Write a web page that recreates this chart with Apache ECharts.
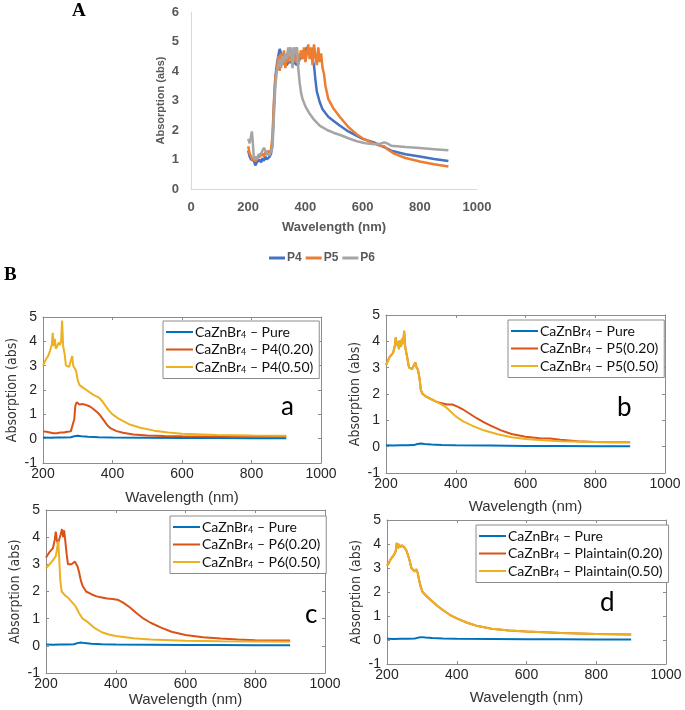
<!DOCTYPE html>
<html><head><meta charset="utf-8">
<script src="https://cdn.jsdelivr.net/npm/echarts/dist/echarts.min.js"></script>
<style>html,body{margin:0;background:#fff}#c{width:685px;height:710px}</style>
</head><body><div id="c"></div><script>
// ---------- Panel A data: [wavelength nm, absorption] ----------
const A_P4 = [[200,1.3],[205,1.1],[210,1.0],[215,1.05],[220,0.95],[225,0.8],[230,0.9],[235,0.85],[240,1.0],[245,0.9],[250,1.05],[255,0.95],[260,1.1],[265,1.0],[270,1.05],[275,1.1],[280,1.2],[285,1.6],[290,2.8],[295,3.8],[300,4.2],[305,4.5],[310,4.75],[315,4.6],[320,4.3],[325,4.25],[330,4.3],[335,4.2],[340,4.3],[345,4.35],[350,4.3],[355,4.4],[360,4.3],[365,4.35],[370,4.2],[375,4.3],[380,4.4],[385,4.45],[390,4.5],[395,4.6],[400,4.7],[405,4.8],[410,4.75],[415,4.6],[420,4.5],[425,4.4],[430,4.2],[435,3.7],[440,3.3],[450,2.95],[460,2.7],[480,2.45],[500,2.3],[520,2.15],[550,1.95],[580,1.8],[600,1.7],[640,1.58],[660,1.48],[675,1.42],[690,1.35],[700,1.3],[750,1.18],[800,1.1],[850,1.02],[900,0.95]];
const A_P5 = [[200,1.45],[205,1.2],[210,1.1],[215,1.0],[220,1.05],[225,0.95],[230,1.05],[235,1.0],[240,1.1],[245,1.05],[250,1.2],[255,1.1],[260,1.25],[265,1.15],[270,1.3],[275,1.2],[280,1.35],[285,1.8],[290,3.0],[295,3.8],[300,4.0],[305,4.5],[310,4.0],[315,4.6],[320,4.2],[325,4.7],[330,4.1],[335,4.5],[340,4.3],[345,4.8],[350,4.4],[355,4.2],[360,4.6],[365,4.3],[370,4.8],[375,4.2],[380,4.5],[385,4.7],[390,4.4],[395,4.8],[400,4.3],[405,4.6],[410,4.9],[415,4.4],[420,4.8],[425,4.2],[430,4.9],[435,4.5],[440,4.2],[445,4.8],[450,4.3],[455,4.6],[460,4.1],[465,3.9],[470,3.5],[480,3.05],[500,2.7],[520,2.45],[550,2.1],[580,1.85],[600,1.72],[630,1.58],[660,1.47],[675,1.45],[690,1.32],[710,1.2],[750,1.05],[800,0.93],[850,0.84],[900,0.76]];
const A_P6 = [[200,1.7],[205,1.55],[210,1.5],[213,1.95],[216,1.6],[220,1.0],[225,1.1],[230,1.0],[235,1.15],[240,1.1],[245,1.2],[250,1.15],[255,1.4],[260,1.3],[265,1.2],[270,1.25],[275,1.15],[280,1.3],[285,1.4],[290,2.5],[295,3.5],[300,4.0],[305,4.2],[310,4.4],[315,4.1],[320,4.5],[325,4.3],[330,4.6],[335,4.4],[340,4.8],[345,4.5],[350,4.8],[355,4.1],[360,4.8],[365,4.6],[370,4.8],[375,4.1],[380,3.6],[385,3.25],[390,3.05],[400,2.8],[415,2.55],[430,2.35],[450,2.15],[476,2.0],[500,1.9],[522,1.83],[550,1.72],[580,1.62],[610,1.55],[640,1.52],[660,1.53],[675,1.58],[685,1.55],[700,1.47],[750,1.42],[800,1.39],[850,1.35],[900,1.31]];
const A_NAMES = ['P4','P5','P6'];

// ---------- Panel B data ----------
const PURE = [[200,0.05],[220,0.04],[240,0.05],[260,0.05],[280,0.06],[290,0.1],[300,0.12],[310,0.1],[330,0.08],[360,0.06],[400,0.05],[500,0.04],[600,0.03],[700,0.03],[800,0.02],[900,0.02]];
const a_P4_020 = [[200,0.3],[210,0.28],[220,0.25],[230,0.22],[240,0.22],[250,0.25],[260,0.25],[270,0.28],[280,0.3],[285,0.35],[290,0.8],[293,1.35],[297,1.5],[300,1.48],[305,1.4],[315,1.42],[325,1.38],[335,1.32],[345,1.22],[355,1.1],[365,0.95],[375,0.75],[385,0.55],[395,0.42],[410,0.32],[430,0.24],[460,0.17],[500,0.13],[550,0.11],[600,0.1],[700,0.09],[800,0.08],[900,0.08]];
const a_P4_050 = [[200,3.0],[205,3.15],[210,3.3],[215,3.4],[220,3.6],[225,3.85],[228,4.35],[231,3.8],[234,4.1],[237,3.7],[241,3.8],[245,3.95],[249,3.85],[252,4.0],[255,4.85],[258,3.8],[262,3.5],[266,3.0],[270,3.05],[275,2.95],[280,3.0],[284,3.4],[287,3.0],[291,3.05],[295,2.8],[300,2.4],[305,2.2],[315,2.1],[330,1.95],[345,1.8],[360,1.7],[370,1.55],[380,1.35],[390,1.15],[400,1.0],[420,0.8],[450,0.58],[480,0.45],[520,0.33],[560,0.25],[600,0.2],[700,0.15],[800,0.13],[900,0.12]];
const b_P5_020 = [[200,3.1],[205,3.25],[210,3.4],[215,3.45],[220,3.55],[225,3.8],[228,4.15],[231,3.85],[234,4.0],[237,3.7],[240,4.05],[243,3.8],[246,4.1],[249,3.9],[252,4.4],[255,3.8],[258,3.75],[262,3.3],[266,3.0],[270,3.0],[275,2.95],[280,3.1],[284,3.2],[288,3.0],[292,2.9],[296,2.6],[300,2.15],[305,2.0],[315,1.9],[330,1.8],[345,1.7],[360,1.65],[375,1.6],[390,1.6],[405,1.52],[420,1.42],[440,1.25],[460,1.08],[480,0.93],[500,0.8],[530,0.62],[560,0.48],[600,0.38],[640,0.32],[670,0.31],[700,0.26],[750,0.21],[800,0.18],[850,0.17],[900,0.17]];
const b_P5_050 = [[200,3.1],[205,3.25],[210,3.4],[215,3.45],[220,3.55],[225,3.8],[228,4.15],[231,3.85],[234,4.0],[237,3.7],[240,4.05],[243,3.8],[246,4.1],[249,3.9],[252,4.4],[255,3.8],[258,3.75],[262,3.3],[266,3.0],[270,3.0],[275,2.95],[280,3.1],[284,3.2],[288,3.0],[292,2.9],[296,2.6],[300,2.15],[305,2.0],[315,1.9],[330,1.8],[345,1.7],[360,1.6],[370,1.52],[380,1.4],[400,1.15],[420,0.97],[450,0.78],[480,0.62],[500,0.55],[520,0.47],[560,0.36],[600,0.29],[650,0.24],[700,0.21],[800,0.18],[900,0.17]];
const c_P6_020 = [[200,3.25],[205,3.35],[210,3.45],[215,3.5],[220,3.6],[225,3.9],[228,4.2],[231,3.9],[234,3.75],[238,3.8],[242,4.1],[246,4.3],[249,4.0],[252,4.25],[255,3.9],[259,3.4],[263,3.0],[268,2.95],[273,3.0],[278,2.95],[283,3.1],[287,3.05],[291,2.9],[295,2.7],[300,2.4],[305,2.2],[315,2.0],[330,1.9],[345,1.82],[360,1.78],[375,1.74],[390,1.72],[405,1.7],[420,1.6],[440,1.42],[460,1.2],[480,1.0],[500,0.85],[530,0.67],[560,0.52],[600,0.4],[650,0.32],[700,0.27],[750,0.23],[800,0.21],[850,0.2],[900,0.2]];
const c_P6_050 = [[200,2.85],[210,3.0],[220,3.15],[228,3.3],[232,3.6],[235,3.85],[238,3.2],[241,2.4],[245,2.0],[255,1.85],[265,1.75],[275,1.6],[285,1.45],[295,1.2],[305,1.0],[320,0.87],[340,0.65],[360,0.5],[380,0.42],[400,0.36],[450,0.28],[500,0.23],[600,0.19],[700,0.17],[800,0.16],[900,0.15]];
const d_PL = [[200,3.1],[205,3.2],[210,3.35],[215,3.45],[220,3.55],[225,3.7],[228,4.05],[231,3.8],[234,4.0],[238,3.85],[242,3.95],[246,3.9],[250,3.85],[255,3.75],[260,3.55],[265,3.3],[270,3.0],[275,2.95],[280,2.85],[284,2.95],[288,2.8],[292,2.5],[297,2.2],[302,2.0],[315,1.8],[330,1.6],[345,1.42],[360,1.25],[380,1.05],[400,0.9],[430,0.72],[460,0.58],[500,0.47],[550,0.4],[600,0.35],[650,0.32],[700,0.29],[750,0.27],[800,0.25],[850,0.24],[900,0.23]];

const B_PANELS = [
  {tag:'a', names:['CaZnBr4 – Pure','CaZnBr4 – P4(0.20)','CaZnBr4 – P4(0.50)'], data:[PURE,a_P4_020,a_P4_050]},
  {tag:'b', names:['CaZnBr4 – Pure','CaZnBr4 – P5(0.20)','CaZnBr4 – P5(0.50)'], data:[PURE,b_P5_020,b_P5_050]},
  {tag:'c', names:['CaZnBr4 – Pure','CaZnBr4 – P6(0.20)','CaZnBr4 – P6(0.50)'], data:[PURE,c_P6_020,c_P6_050]},
  {tag:'d', names:['CaZnBr4 – Pure','CaZnBr4 – Plaintain(0.20)','CaZnBr4 – Plaintain(0.50)'], data:[PURE,d_PL,d_PL]}
];

// ---------- layout ----------
const chart = echarts.init(document.getElementById('c'));
const grids = [{left:191, top:12, width:286, height:177}];
const BOX = [
  {left:43, top:317, width:278, height:146, leg:{left:163, top:321}, letter:[288,418], xt:491},
  {left:386, top:315, width:279, height:158, leg:{left:508, top:320}, letter:[624,419], xt:500},
  {left:46, top:510, width:279, height:163, leg:{left:170, top:516}, letter:[312,626], xt:692},
  {left:387, top:520, width:279, height:144, leg:{left:476, top:525}, letter:[607,614], xt:691}
];
const plain = v => String(v);
const xAxes = [{
  gridIndex:0, type:'value', min:0, max:1000, interval:200,
  axisLine:{show:true, lineStyle:{color:'#d9d9d9'}}, axisTick:{show:false}, splitLine:{show:false},
  axisLabel:{color:'#595959', fontWeight:'bold', fontSize:13, fontFamily:'Liberation Sans', margin:12, formatter:plain},
  name:'Wavelength (nm)', nameLocation:'middle', nameGap:32,
  nameTextStyle:{color:'#595959', fontWeight:'bold', fontSize:13, fontFamily:'Liberation Sans'}
}];
const yAxes = [{
  gridIndex:0, type:'value', min:0, max:6, interval:1,
  axisLine:{show:true, lineStyle:{color:'#d9d9d9'}}, axisTick:{show:false}, splitLine:{show:false},
  axisLabel:{color:'#595959', fontWeight:'bold', fontSize:13, fontFamily:'Liberation Sans', margin:12},
  name:'Absorption (abs)', nameLocation:'middle', nameGap:25,
  nameTextStyle:{color:'#595959', fontWeight:'bold', fontSize:11, fontFamily:'Liberation Sans'}
}];
const ACOL = ['#4472C4','#ED7D31','#A5A5A5'];
const series = [A_P4, A_P5, A_P6].map((d,i)=>({
  type:'line', name:A_NAMES[i], xAxisIndex:0, yAxisIndex:0, data:d, showSymbol:false,
  lineStyle:{width:2.5, color:ACOL[i]}, itemStyle:{color:ACOL[i]}, z:3
}));
const legends = [{
  data:A_NAMES, left:264, top:247, itemGap:4, itemWidth:16, itemHeight:3, icon:'rect',
  textStyle:{color:'#595959', fontWeight:'bold', fontSize:12, fontFamily:'Liberation Sans', padding:[0,0,0,-3]}
}];
const BCOL = ['#0072BD','#D95319','#EDB120'];
const graphics = [];
const edge = '#8c8c8c';
const lbl = {color:'#262626', fontSize:14, fontFamily:'Liberation Sans', formatter:plain};
B_PANELS.forEach((p,k)=>{
  const g = k+1, b = BOX[k];
  grids.push({left:b.left, top:b.top, width:b.width, height:b.height});
  const xb = xAxes.length, yb = yAxes.length;
  xAxes.push({gridIndex:g, type:'value', position:'bottom', min:200, max:1000, interval:200,
    axisLine:{onZero:false, lineStyle:{color:edge}}, axisTick:{inside:true, length:3, lineStyle:{color:edge}},
    splitLine:{show:false}, axisLabel:Object.assign({}, lbl, {margin:4}),
    name:'Wavelength (nm)', nameLocation:'middle', nameGap:b.xt-(b.top+b.height)-1,
    nameTextStyle:{color:'#333', fontSize:15, fontFamily:'Liberation Sans'}});
  xAxes.push({gridIndex:g, type:'value', position:'top', min:200, max:1000, interval:200,
    axisLine:{onZero:false, lineStyle:{color:edge}}, axisTick:{inside:true, length:3, lineStyle:{color:edge}},
    splitLine:{show:false}, axisLabel:{show:false}});
  yAxes.push({gridIndex:g, type:'value', position:'left', min:-1, max:5, interval:1,
    axisLine:{onZero:false, lineStyle:{color:edge}}, axisTick:{inside:true, length:3, lineStyle:{color:edge}},
    splitLine:{show:false}, axisLabel:Object.assign({}, lbl, {margin:6}),
    name:'Absorption (abs)', nameLocation:'middle', nameGap:24,
    nameTextStyle:{color:'#333', fontSize:14, fontFamily:'Liberation Sans Narrow, DejaVu Sans Condensed, Liberation Sans'}});
  yAxes.push({gridIndex:g, type:'value', position:'right', min:-1, max:5, interval:1,
    axisLine:{onZero:false, lineStyle:{color:edge}}, axisTick:{inside:true, length:3, lineStyle:{color:edge}},
    splitLine:{show:false}, axisLabel:{show:false}});
  p.data.forEach((d,i)=>{
    series.push({type:'line', name:p.names[i], xAxisIndex:xb, yAxisIndex:yb, data:d, showSymbol:false,
      lineStyle:{width:2, color:BCOL[i]}, itemStyle:{color:BCOL[i]}, z:2+i});
  });
  legends.push({data:p.names, orient:'vertical', left:b.leg.left, top:b.leg.top,
    itemGap:3, itemWidth:27, itemHeight:2, icon:'rect', backgroundColor:'#fff',
    borderColor:'#8c8c8c', borderWidth:1, padding:[4,6,4,3],
    formatter: n => n.replace('CaZnBr4', 'CaZnBr{sub|4}'),
    textStyle:{color:'#111', fontSize:14, fontFamily:'Lato', padding:[0,0,0,-3],
      rich:{sub:{fontSize:9, fontFamily:'Lato', color:'#111', padding:[6,0,0,0]}}}});
  graphics.push({type:'text', left:b.letter[0]-7, top:b.letter[1]-24,
    style:{text:p.tag, fontSize:26, fontFamily:'Lato', fill:'#000'}});
});
graphics.push({type:'text', left:72, top:2, style:{text:'A', fontSize:19, fontWeight:'bold', fontFamily:'Liberation Serif', fill:'#000'}});
graphics.push({type:'text', left:4, top:266, style:{text:'B', fontSize:19, fontWeight:'bold', fontFamily:'Liberation Serif', fill:'#000'}});

chart.setOption({
  animation:false, backgroundColor:'#fff',
  grid:grids, xAxis:xAxes, yAxis:yAxes, series:series, legend:legends, graphic:graphics
});
</script></body></html>
